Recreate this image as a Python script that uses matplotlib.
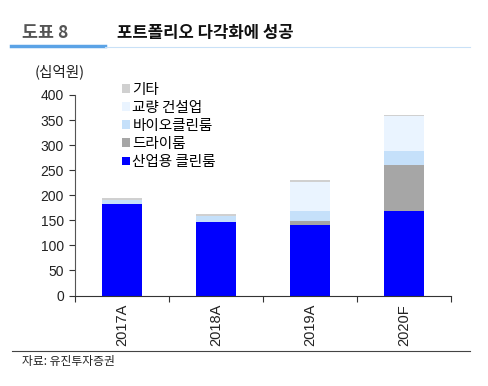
import matplotlib
matplotlib.use("Agg")
import matplotlib.pyplot as plt
from matplotlib.lines import Line2D

plt.rcParams['font.family'] = ['Noto Sans CJK KR', 'DejaVu Sans']

categories = ['2017A', '2018A', '2019A', '2020F']
industrial = [182, 147, 140, 169]
dryroom = [0, 0, 9, 92]
bio = [9, 11, 20, 27]
bridge = [0, 0, 58, 70]
other = [4, 4, 3, 3]

series_names = ['산업용 클린룸', '드라이룸', '바이오클린룸', '교량 건설업', '기타']
series_vals = [industrial, dryroom, bio, bridge, other]
colors = ['#0000FF', '#A6A6A6', '#C5E0FA', '#EAF4FF', '#D0D0D0']
yticks = [0, 50, 100, 150, 200, 250, 300, 350, 400]

fig = plt.figure(figsize=(4.88, 3.86), dpi=100)
ax = fig.add_axes([75/488, 1-295.5/386, (451-75)/488, (295.5-95)/386])

x = list(range(len(categories)))
bottom = [0]*len(categories)
handles = []
for name, vals, c in zip(series_names, series_vals, colors):
    b = ax.bar(x, vals, width=0.42, bottom=bottom, color=c, label=name, linewidth=0)
    handles.append(b)
    bottom = [bb + v for bb, v in zip(bottom, vals)]

ax.set_xlim(-0.5, 3.5)
ax.set_ylim(0, 400)
ax.set_yticks(yticks)
ax.set_yticklabels([str(t) for t in yticks], family=['Liberation Sans'], fontsize=10, color='#222222')
ax.set_xticks([-0.5, 0.5, 1.5, 2.5, 3.5])
ax.set_xticklabels([])
ax.set_xticks(x, minor=True)
ax.set_xticklabels(categories, minor=True, rotation=90, family=['Liberation Sans'], fontsize=10.5, color='#222222')
ax.tick_params(axis='x', which='minor', length=0, pad=6)
ax.tick_params(axis='x', which='major', length=4, direction='out', color='#333333')
ax.tick_params(axis='y', length=4, direction='out', color='#333333', pad=4)
for s in ['top', 'right']:
    ax.spines[s].set_visible(False)
ax.spines['left'].set_color('#555555')
ax.spines['bottom'].set_color('#333333')

leg = ax.legend(handles[::-1], series_names[::-1], loc='upper left', bbox_to_anchor=(0.11, 1.09),
                frameon=False, fontsize=10.5, handlelength=0.55, handleheight=0.55,
                handletextpad=0.15, labelspacing=0.28, borderaxespad=0)

# header
fig.text(22/488, 1-33/386, '도표 8', fontsize=12.5, fontweight='bold', color='#555555', va='center')
fig.text(117/488, 1-33/386, '포트폴리오 다각화에 성공', fontsize=12, fontweight='bold', color='#111111', va='center')
fig.add_artist(Line2D([11/488, 105/488], [1-46/386, 1-46/386], color='#5BA3E6', linewidth=2.5, transform=fig.transFigure))
fig.add_artist(Line2D([105/488, 470/488], [1-46.5/386, 1-46.5/386], color='#C9E1F7', linewidth=0.8, transform=fig.transFigure))

fig.text(35/488, 1-72/386, '(십억원)', fontsize=10.5, color='#222222', va='center')

fig.add_artist(Line2D([12/488, 470/488], [1-351/386, 1-351/386], color='#444444', linewidth=0.8, transform=fig.transFigure))
fig.text(22/488, 1-361/386, '자료: 유진투자증권', fontsize=8.5, color='#222222', va='center')

fig.savefig('out.png', dpi=100)
